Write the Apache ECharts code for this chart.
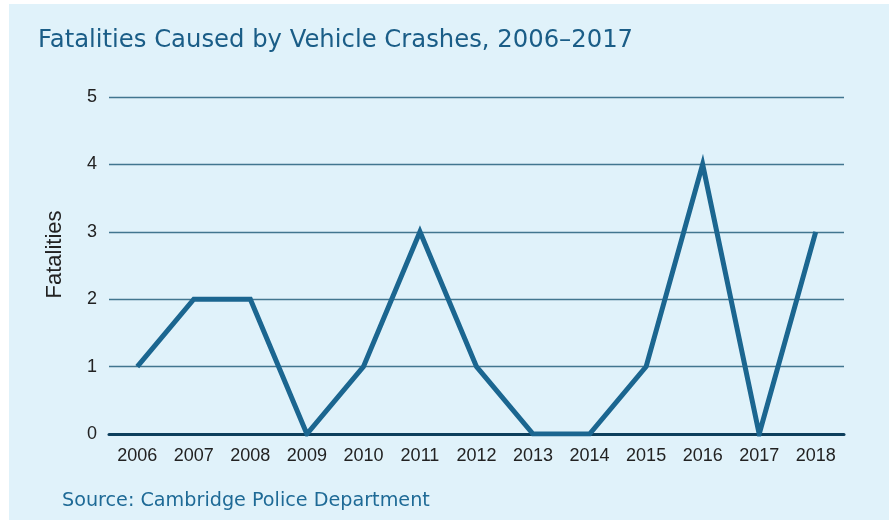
<!DOCTYPE html>
<html>
<head>
<meta charset="utf-8">
<script src="https://cdn.jsdelivr.net/npm/echarts@6/dist/echarts.min.js"></script>
<style>
  html, body { margin: 0; padding: 0; background: #ffffff; }
  #panel { position: absolute; left: 9px; top: 4px; right: 0; bottom: 0; background: #e0f2fa; }
  #chart { position: absolute; left: 0; top: 0; width: 889px; height: 520px; }
</style>
</head>
<body>
<div id="panel"></div>
<div id="chart"></div>
<script>
// Annual vehicle-crash fatalities, Cambridge
const years = ['2006', '2007', '2008', '2009', '2010', '2011', '2012', '2013', '2014', '2015', '2016', '2017', '2018'];
const fatalities = [1, 2, 2, 0, 1, 3, 1, 0, 0, 1, 4, 0, 3];
const yTicks = [0, 1, 2, 3, 4, 5];

const chart = echarts.init(document.getElementById('chart'), null, { renderer: 'canvas' });
const font = '"Liberation Sans", Arial, sans-serif';
const headFont = '"DejaVu Sans", sans-serif';

chart.setOption({
  backgroundColor: 'transparent',
  animation: false,
  title: [
    {
      text: 'Fatalities Caused by Vehicle Crashes, 2006\u20132017',
      left: 33, top: 24,
      textStyle: { fontFamily: headFont, fontSize: 24.3, fontWeight: 'normal', color: '#1a5d87' }
    },
    {
      text: 'Source: Cambridge Police Department',
      left: 57, top: 487,
      textStyle: { fontFamily: headFont, fontSize: 19.2, fontWeight: 'normal', color: '#1e6a96' }
    }
  ],
  grid: { left: 109, right: 45, top: 97, bottom: 86 },
  xAxis: {
    type: 'category',
    data: years,
    boundaryGap: true,
    axisLine: { show: true, lineStyle: { color: '#0d3f5c', width: 3 } },
    axisTick: { show: false },
    axisLabel: { fontFamily: font, fontSize: 18, color: '#222222', margin: 13 }
  },
  yAxis: {
    type: 'value',
    min: yTicks[0],
    max: yTicks[yTicks.length - 1],
    interval: 1,
    name: 'Fatalities',
    nameLocation: 'middle',
    nameGap: 43,
    nameRotate: 90,
    nameTextStyle: { fontFamily: font, fontSize: 22, color: '#222222', padding: [0, 0, 0, 22] },
    axisLine: { show: false },
    axisTick: { show: false },
    axisLabel: { fontFamily: font, fontSize: 18, color: '#222222', margin: 12 },
    splitLine: { lineStyle: { color: '#42768f', width: 1.4 } }
  },
  series: [{
    type: 'line',
    data: fatalities,
    symbol: 'none',
    lineStyle: { color: '#1b6690', width: 5, join: 'miter' },
    z: 3
  }]
});
</script>
</body>
</html>
